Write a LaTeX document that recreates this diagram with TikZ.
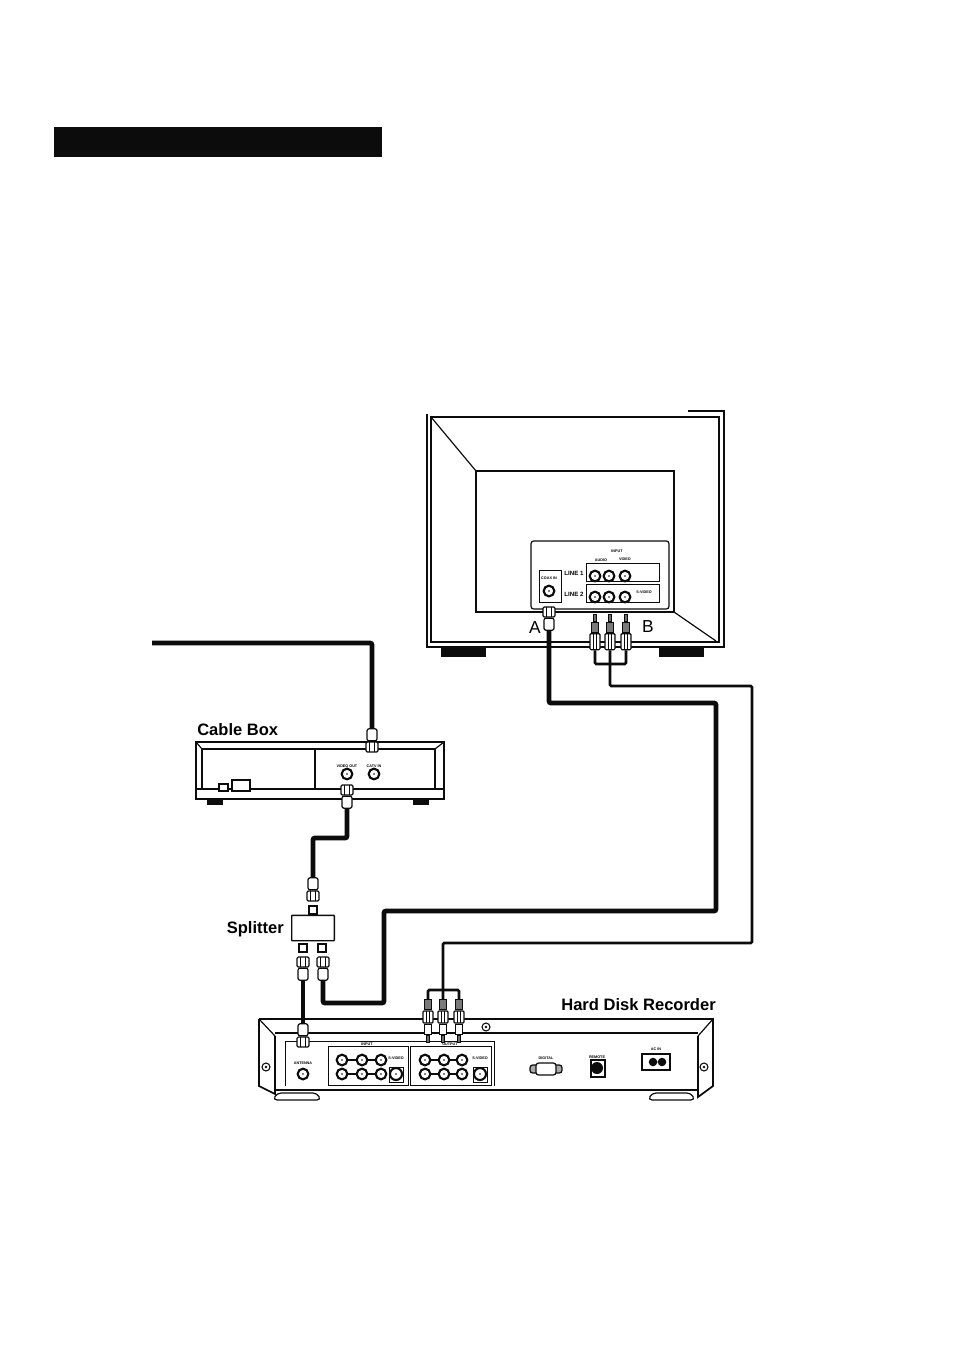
\documentclass[tikz,border=0pt]{standalone}
\usepackage{fontspec}
\setmainfont{Liberation Sans}
\usetikzlibrary{
  positioning,
  calc,
  backgrounds
}
\definecolor{hdInk}{HTML}{0C0C0C}
\tikzset{
  outline/.style={draw=hdInk, line width=0.9pt},
  hairline/.style={draw=hdInk, line width=0.6pt},
  heavyline/.style={draw=hdInk, line width=1.3pt},
  coaxcable/.style={draw=hdInk, line width=3.6pt, rounded corners=1.5pt},
  slimcoax/.style={draw=hdInk, line width=2.8pt, rounded corners=1.5pt},
  rcacable/.style={draw=hdInk, line width=2pt, rounded corners=1pt},
  footbar/.style={fill=hdInk, draw=none},
  devicelabel/.style={font=\bfseries\fontsize{12.4}{14}\selectfont, inner sep=0pt},
  letterlabel/.style={font=\fontsize{13}{15}\selectfont, inner sep=0pt},
  linelabel/.style={font=\bfseries\fontsize{4.6}{5}\selectfont, inner sep=0pt},
  tinylabel/.style={font=\bfseries\fontsize{2.8}{3}\selectfont, inner sep=0pt},
  jack/.style={
    circle, draw=hdInk, line width=1.6pt, fill=white, minimum size=8pt, inner sep=0pt,
    path picture={\fill[hdInk] (path picture bounding box.center) circle (0.7pt);}
  },
  coaxnut/.style={
    rectangle, rounded corners=1pt, draw=hdInk, line width=0.9pt, fill=white,
    minimum width=9pt, minimum height=7.5pt, inner sep=0pt,
    path picture={
      \draw[hdInk, line width=0.8pt]
        ($(path picture bounding box.north west)!0.33!(path picture bounding box.north east)$) --
        ($(path picture bounding box.south west)!0.33!(path picture bounding box.south east)$)
        ($(path picture bounding box.north west)!0.67!(path picture bounding box.north east)$) --
        ($(path picture bounding box.south west)!0.67!(path picture bounding box.south east)$);
    }
  },
  coaxsleeve/.style={
    rectangle, rounded corners=1.5pt, draw=hdInk, line width=0.9pt, fill=white,
    minimum width=7.5pt, minimum height=9pt, inner sep=0pt
  },
  rcaplug/.style={
    rectangle, rounded corners=0.8pt, draw=hdInk, line width=0.9pt, fill=white,
    minimum width=7.5pt, minimum height=12pt, inner sep=0pt,
    path picture={
      \draw[hdInk, line width=1pt]
        ($(path picture bounding box.north west)!0.33!(path picture bounding box.north east)$) --
        ($(path picture bounding box.south west)!0.33!(path picture bounding box.south east)$)
        ($(path picture bounding box.north west)!0.67!(path picture bounding box.north east)$) --
        ($(path picture bounding box.south west)!0.67!(path picture bounding box.south east)$);
    }
  },
  rcacollar/.style={rectangle, draw=hdInk, line width=0.8pt, fill=hdInk!55, minimum width=5.5pt, minimum height=7.5pt, inner sep=0pt},
  rcasleeve/.style={rectangle, draw=hdInk, line width=0.8pt, fill=white, minimum width=5.5pt, minimum height=7.5pt, inner sep=0pt},
  rcapin/.style={rectangle, draw=hdInk, line width=0.5pt, fill=hdInk!60, minimum width=2pt, minimum height=5.5pt, inner sep=0pt},
  stubplug/.style={rectangle, draw=hdInk, line width=1.5pt, fill=white, minimum width=6pt, minimum height=6pt, inner sep=0pt},
  splitterbox/.style={rectangle, rounded corners=0.5pt, draw=hdInk, line width=1pt, fill=white, minimum width=32pt, minimum height=19pt, inner sep=0pt},
  screw/.style={circle, draw=hdInk, line width=0.8pt, fill=white, minimum size=6pt, inner sep=0pt,
    path picture={\fill[hdInk] (path picture bounding box.center) circle (1pt);}}
}
\begin{document}
\begin{tikzpicture}[x=0.75pt, y=-0.75pt]
  \useasboundingbox (0,0) rectangle (953,1346);
  % heading bar
  \fill[hdInk] (54,127) rectangle (382,157);

  % television
  \draw[heavyline] (427,414) -- (427,647) -- (724,647) -- (724,411) -- (688,411);
  \draw[outline] (431,417) -- (719,417) -- (719,642) -- (431,642) -- cycle;
  \draw[outline] (476,471) rectangle (674,612);
  \draw[outline] (431,417) -- (476,471);
  \draw[outline] (674,612) -- (716,641);
  \fill[footbar] (441,647) rectangle (486,657);
  \fill[footbar] (659,647) rectangle (704,657);
  \draw[outline, fill=white, rounded corners=2pt] (531,541) rectangle (669,609);
  \draw[hairline] (539,570) rectangle (561,602);
  \draw[hairline] (586,563) rectangle (659,581);
  \draw[hairline] (586,584) rectangle (659,602);
  \node[jack] (tvant) at (549,591) {};
  \node[tinylabel] (tvantlabel) at (549,578) {COAX IN};
  \node[tinylabel] (tvinput) at (617,551) {INPUT};
  \node[linelabel] (tvlineone) at (574,573) {LINE 1};
  \node[linelabel] (tvlinetwo) at (574,594) {LINE 2};
  \node[tinylabel] (tvaudio) at (601,560) {AUDIO};
  \node[tinylabel] (tvvideo) at (625,559) {VIDEO};
  \node[tinylabel] (tvsvideo) at (644,592) {S-VIDEO};
  \foreach \jx/\jn in {595/a,609/b,625/c} {
    \node[jack] (tvone\jn) at (\jx,576) {};
    \node[jack] (tvtwo\jn) at (\jx,597) {};
  }
  \node[letterlabel] (labela) at (535,628) {A};
  \node[letterlabel] (labelb) at (648,627) {B};

  % cable box
  \draw[heavyline] (196,742) -- (444,742) -- (444,799) -- (196,799) -- cycle;
  \draw[outline] (202,749) -- (435,749) -- (435,789) (202,749) -- (202,789);
  \draw[outline] (196,789) -- (444,789);
  \draw[outline] (196,742) -- (202,749) (444,742) -- (435,749);
  \draw[outline] (315,749) -- (315,789);
  \draw[outline, fill=white] (219,784) rectangle (228,791);
  \draw[outline, fill=white] (232,780) rectangle (250,791);
  \fill[footbar] (207,799) rectangle (223,805);
  \fill[footbar] (413,799) rectangle (429,805);
  \node[jack] (boxout) at (347,774) {};
  \node[jack] (boxin) at (374,774) {};
  \node[tinylabel] (boxoutlabel) at (347,766) {VIDEO OUT};
  \node[tinylabel] (boxinlabel) at (374,766) {CATV IN};
  \node[devicelabel, anchor=west] (boxlabel) at (197,730) {Cable Box};

  % hard disk recorder
  \draw[heavyline] (259,1019) -- (713,1019) -- (713,1086) -- (698,1097) -- (698,1036) (259,1019) -- (259,1086) -- (275,1094) -- (275,1036);
  \draw[outline] (275,1033) -- (698,1033);
  \draw[outline] (259,1019) -- (275,1036) (713,1019) -- (698,1036);
  \draw[heavyline] (275,1090) -- (698,1090);
  \draw[hairline] (285,1086) -- (285,1041) -- (494,1041) -- (494,1086);
  \draw[hairline] (328,1046) rectangle (408,1085);
  \draw[hairline] (410,1046) rectangle (491,1085);
  \draw[outline, rounded corners=3pt] (273,1100) -- (277,1093) -- (317,1093) -- (321,1100) -- cycle;
  \draw[outline, rounded corners=3pt] (648,1100) -- (652,1093) -- (691,1093) -- (695,1100) -- cycle;
  \node[screw] (screwleft) at (266,1067) {};
  \node[screw] (screwtop) at (486,1027) {};
  \node[screw] (screwright) at (704,1067) {};
  \node[jack] (hdrant) at (303,1074) {};
  \node[tinylabel] (hdrantlabel) at (303,1063) {ANTENNA};
  \node[tinylabel] (hdrinput) at (367,1044) {INPUT};
  \node[tinylabel] (hdroutput) at (450,1044) {OUTPUT};
  \foreach \rowy in {1060,1074} {
    \draw[outline] (342,\rowy) -- (381,\rowy);
    \draw[outline] (425,\rowy) -- (462,\rowy);
  }
  \foreach \jx/\jn in {342/a,362/b,381/c,425/d,444/e,462/f} {
    \node[jack] (hdrtop\jn) at (\jx,1060) {};
    \node[jack] (hdrlow\jn) at (\jx,1074) {};
  }
  \draw[hairline] (389,1067) rectangle (403,1082);
  \draw[hairline] (473,1067) rectangle (487,1082);
  \node[jack, minimum size=9pt] (hdrsvin) at (396,1074) {};
  \node[jack, minimum size=9pt] (hdrsvout) at (480,1074) {};
  \node[tinylabel] (hdrsvinlabel) at (396,1058) {S-VIDEO};
  \node[tinylabel] (hdrsvoutlabel) at (480,1058) {S-VIDEO};
  \draw[outline, fill=hdInk!35, rounded corners=2pt] (530,1065) rectangle (562,1073);
  \draw[outline, fill=white, rounded corners=2pt] (536,1063) rectangle (556,1075);
  \node[tinylabel] (hdrdigital) at (546,1058) {DIGITAL};
  \draw[outline] (591,1060) rectangle (605,1077);
  \fill[hdInk] (597,1068) circle (4.5pt);
  \node[tinylabel] (hdrremote) at (597,1057) {REMOTE};
  \draw[heavyline] (642,1054) rectangle (670,1070);
  \fill[hdInk] (653,1062) circle (3.2pt) (662,1062) circle (3.2pt);
  \node[tinylabel] (hdracin) at (656,1049) {AC IN};
  \node[devicelabel, anchor=east] (hdrlabel) at (716,1005) {Hard Disk Recorder};

  % splitter and plugs
  \node[devicelabel, anchor=east] (splitterlabel) at (284,929) {Splitter};
  \node[splitterbox] (splitter) at (313,928) {};
  \node[stubplug] (stubtop) at (313,910) {};
  \node[stubplug] (stubleft) at (303,948) {};
  \node[stubplug] (stubright) at (322,948) {};

  \node[coaxnut] (tvnut) at (549,612) {};
  \node[coaxsleeve, below=0pt of tvnut] (tvplug) {};
  \node[coaxnut] (boxinnut) at (372,747) {};
  \node[coaxsleeve, above=0pt of boxinnut] (boxinplug) {};
  \node[coaxnut] (boxoutnut) at (347,790) {};
  \node[coaxsleeve, below=0pt of boxoutnut] (boxoutplug) {};
  \node[coaxnut] (splittopnut) at (313,896) {};
  \node[coaxsleeve, above=0pt of splittopnut] (splittop) {};
  \node[coaxnut] (splitleftnut) at (303,962) {};
  \node[coaxsleeve, below=0pt of splitleftnut] (splitleft) {};
  \node[coaxnut] (splitrightnut) at (323,962) {};
  \node[coaxsleeve, below=0pt of splitrightnut] (splitright) {};
  \node[coaxnut] (hdrnut) at (303,1042) {};
  \node[coaxsleeve, above=0pt of hdrnut] (hdrplug) {};

  \foreach \px/\pn in {595/a,610/b,626/c} {
    \node[rcapin] (tvpin\pn) at (\px,618) {};
    \node[rcacollar, below=0pt of tvpin\pn] (tvcollar\pn) {};
    \node[rcaplug, below=0pt of tvcollar\pn] (tvrca\pn) {};
  }
  \foreach \px/\pn in {428/a,443/b,459/c} {
    \node[rcaplug, minimum height=9pt] (hdrrca\pn) at (\px,1017) {};
    \node[rcacollar, above=0pt of hdrrca\pn] (hdrcollar\pn) {};
    \node[rcasleeve, below=0pt of hdrrca\pn] (hdrsleeve\pn) {};
    \node[rcapin, below=0pt of hdrsleeve\pn] (hdrpin\pn) {};
  }

  % cables
  \begin{scope}[on background layer]
    \coordinate (feedstart) at (152,643);
    \draw[coaxcable] (feedstart) -- (372,643) -- (boxinplug.north);
    \draw[coaxcable] (boxoutplug.south) -- (347,838) -- (313,838) -- (splittop.north);
    \draw[slimcoax] (splitleft.south) -- (hdrplug.north);
    \draw[coaxcable] (tvplug.south) -- (549,703) -- (716,703) -- (716,911) -- (384,911) -- (384,1003) -- (323,1003) -- (splitright.south);
    \draw[rcacable] (tvrcaa.south) -- (595,664) -- (626,664) -- (tvrcac.south);
    \draw[rcacable] (tvrcab.south) -- (610,686) -- (752,686) -- (752,943) -- (443,943) -- (hdrcollarb.north);
    \draw[rcacable] (hdrcollara.north) -- (428,990) -- (459,990) -- (hdrcollarc.north);
  \end{scope}
\end{tikzpicture}
\end{document}
